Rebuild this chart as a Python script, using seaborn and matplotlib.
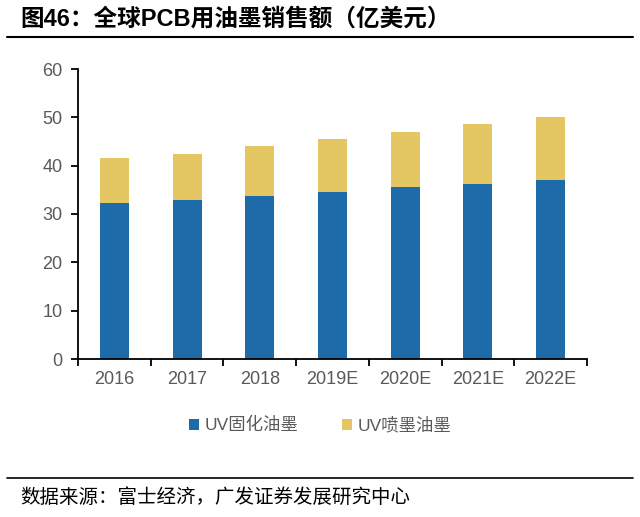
import matplotlib
matplotlib.use("Agg")
import matplotlib.pyplot as plt
import seaborn as sns
import pandas as pd
from matplotlib.lines import Line2D
from matplotlib.patches import Patch

years = ["2016", "2017", "2018", "2019E", "2020E", "2021E", "2022E"]
uv_cure = [32.2, 33.0, 33.8, 34.6, 35.5, 36.3, 37.0]
uv_inkjet = [9.3, 9.5, 10.3, 10.9, 11.5, 12.3, 13.1]
series_names = ["UV固化油墨", "UV喷墨油墨"]
yticks = [0, 10, 20, 30, 40, 50, 60]

blue = "#1D6BA8"
yellow = "#E4C662"
grey = "#595959"

sns.set_theme(style="white")
plt.rcParams["font.family"] = ["Liberation Sans", "Noto Sans CJK SC", "DejaVu Sans"]

df = pd.DataFrame({"year": years, "cure": uv_cure, "inkjet": uv_inkjet})
df["total"] = df["cure"] + df["inkjet"]

fig = plt.figure(figsize=(6.4, 5.17), dpi=100)
ax = fig.add_axes([78/640, 1-359/517, (587-78)/640, (359-69)/517])

sns.barplot(data=df, x="year", y="total", color=yellow, width=0.4, ax=ax,
            saturation=1, linewidth=0)
sns.barplot(data=df, x="year", y="cure", color=blue, width=0.4, ax=ax,
            saturation=1, linewidth=0)

ax.set_xlim(-0.5, len(years) - 0.5)
ax.set_ylim(0, 60)
ax.set_yticks(yticks)
ax.set_yticklabels([str(t) for t in yticks])
ax.set_xlabel("")
ax.set_ylabel("")
for s in ["top", "right"]:
    ax.spines[s].set_visible(False)
for s in ["left", "bottom"]:
    ax.spines[s].set_color("black")
    ax.spines[s].set_linewidth(1.3)

ax.tick_params(axis="y", which="major", direction="out", length=5, width=1.3,
               color="black", labelsize=13, labelcolor=grey, pad=6, left=True)
ax.tick_params(axis="x", which="major", length=0, labelsize=13, labelcolor=grey, pad=9)
ax.set_xticks([i - 0.5 for i in range(len(years) + 1)], minor=True)
ax.tick_params(axis="x", which="minor", direction="out", length=5, width=1.3,
               color="black", bottom=True)

handles = [Patch(facecolor=blue, edgecolor="none"), Patch(facecolor=yellow, edgecolor="none")]
fig.legend(handles, series_names, loc="center", bbox_to_anchor=(0.5, 1-425/517),
           ncol=2, frameon=False, fontsize=12.5, handlelength=0.6, handleheight=0.6,
           handletextpad=0.3, columnspacing=2.5, labelcolor=grey)

fig.text(20/640, 1-19/517, "图46：全球PCB用油墨销售额（亿美元）", fontsize=17,
         fontweight="bold", va="center", ha="left", color="black")
fig.add_artist(Line2D([7/640, 633/640], [1-37/517, 1-37/517], color="black", lw=1.5))
fig.add_artist(Line2D([7/640, 633/640], [1-478/517, 1-478/517], color="black", lw=1.2))
fig.text(20/640, 1-497/517, "数据来源：富士经济，广发证券发展研究中心", fontsize=14,
         va="center", ha="left", color="black", family=["Noto Sans CJK SC"])

fig.savefig("out.png", dpi=100)
